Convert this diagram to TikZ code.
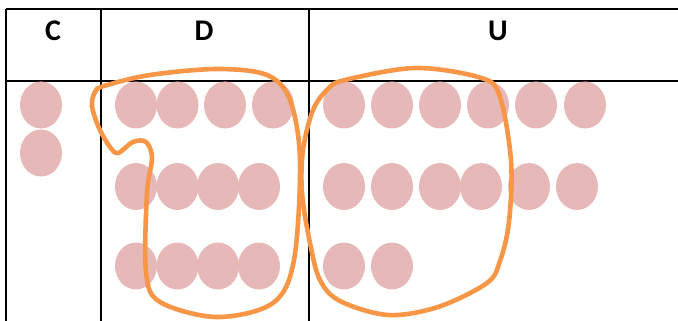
\documentclass[tikz,border=0pt]{standalone}
\usepackage{fontspec}
\setsansfont{Carlito}
\usepackage{tikz}
\usetikzlibrary{shapes.geometric}
\definecolor{dotpink}{HTML}{E6B9B8}
\definecolor{lassoorange}{HTML}{F79646}

\begin{document}
\begin{tikzpicture}[
    x=1pt, y=-1pt,
    head/.style={font=\sffamily\bfseries\fontsize{30}{30}\selectfont, inner sep=0pt},
    dot/.style={ellipse, fill=dotpink, minimum width=42pt, minimum height=47pt, inner sep=0pt},
    rule/.style={line width=2.4pt, draw=black},
    lasso/.style={line width=4.6pt, draw=lassoorange, line join=round}
]
\useasboundingbox (0,0) rectangle (678,321);

% table
\draw[rule] (6,9) -- (678,9);
\draw[rule] (6,81) -- (678,81);
\draw[rule] (6,9) -- (6,321);
\draw[rule] (101,9) -- (101,321);
\draw[rule] (309,9) -- (309,321);

\node[head] (hc) at (53,31) {C};
\node[head] (hd) at (204,31) {D};
\node[head] (hu) at (498,31) {U};

% dots
\node[dot] (c1) at (41,105) {};
\node[dot] (c2) at (41,153) {};
\foreach \x [count=\i] in {136,177.5,225,273}
    \node[dot] (d1-\i) at (\x,105) {};
\foreach \y [count=\j from 2] in {186.5,266}
    \foreach \x [count=\i] in {136,177.5,218,259}
        \node[dot] (d\j-\i) at (\x,\y) {};
\foreach \x [count=\i] in {344,392,440,488,536,585}
    \node[dot] (u1-\i) at (\x,105) {};
\foreach \x [count=\i] in {344,392,440,481,529,577}
    \node[dot] (u2-\i) at (\x,186.5) {};
\foreach \x [count=\i] in {344,392}
    \node[dot] (u3-\i) at (\x,266) {};

% loops
\draw[lasso] plot[smooth cycle, tension=0.55] coordinates {
    (95,92) (104,86) (150,75) (217,69) (267,75) (290,100) (300,160) (294,260)
    (273,303) (217,317) (160,302) (146,272) (147,193) (152,158)
    (146,142) (133,142) (118,153) (110,147) (99,128) (92,106)};
\draw[lasso] plot[smooth cycle, tension=0.55] coordinates {
    (303,150) (313,110) (328,89) (345,80) (415,68) (478,77) (499,94)
    (511,160) (509,222) (500,261) (487,283) (438,307) (388,315)
    (340,301) (320,280) (310,243) (302,193)};
\end{tikzpicture}
\end{document}
